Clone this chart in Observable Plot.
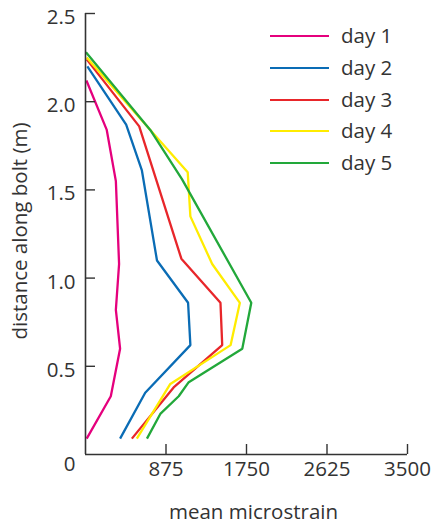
<!DOCTYPE html>
<html>
<head>
<meta charset="utf-8">
<script src="https://cdn.jsdelivr.net/npm/d3@7"></script>
<script src="https://cdn.jsdelivr.net/npm/@observablehq/plot@0.6"></script>
<style>
  body { margin: 0; background: #fff; }
  #wrap { position: relative; width: 447px; height: 524px; font-family: "Open Sans", sans-serif; }
  .sw { position: absolute; left: 270px; width: 59px; height: 2px; }
  .lb { position: absolute; left: 341px; font-size: 20.5px; color: #333; line-height: 28px; height: 28px; white-space: nowrap; }
</style>
</head>
<body>
<div id="wrap"></div>
<script>
const days = ["day 1", "day 2", "day 3", "day 4", "day 5"];
const colors = ["#e5007d", "#0a6cb5", "#e8262a", "#ffec00", "#22a83a"];
const xTicks = [875, 1750, 2625, 3500];
const yTicks = [0.5, 1.0, 1.5, 2.0, 2.5];

const day1Strain = [13, 275, 376, 330, 365, 330, 231, 10];
const day1Dist   = [0.09, 0.33, 0.60, 0.82, 1.08, 1.55, 1.84, 2.12];
const day2Strain = [376, 649, 1140, 1115, 777, 613, 442, 20];
const day2Dist   = [0.09, 0.35, 0.62, 0.86, 1.10, 1.61, 1.87, 2.20];
const day3Strain = [504, 958, 1486, 1467, 1042, 584, 13];
const day3Dist   = [0.09, 0.38, 0.62, 0.86, 1.11, 1.86, 2.24];
const day4Strain = [558, 922, 1577, 1678, 1377, 1140, 1111, 704, 13];
const day4Dist   = [0.09, 0.40, 0.62, 0.86, 1.08, 1.35, 1.60, 1.84, 2.25];
const day5Strain = [668, 813, 1013, 1122, 1704, 1802, 1050, 704, 5];
const day5Dist   = [0.09, 0.23, 0.33, 0.41, 0.60, 0.86, 1.56, 1.84, 2.28];

const series = [
  [day1Strain, day1Dist], [day2Strain, day2Dist], [day3Strain, day3Dist],
  [day4Strain, day4Dist], [day5Strain, day5Dist]
];
const rows = [];
series.forEach(([xs, ys], i) => xs.forEach((x, j) => rows.push({day: days[i], strain: x, dist: ys[j]})));

const ink = "#333";
const fs = 20.5;
const plot = Plot.plot({
  width: 447,
  height: 524,
  marginLeft: 85,
  marginRight: 40,
  marginTop: 13,
  marginBottom: 70,
  style: {fontFamily: "'Open Sans', sans-serif", fontSize: fs + "px", color: ink, background: "#fff", overflow: "visible"},
  x: {domain: [0, 3500]},
  y: {domain: [0, 2.5]},
  color: {domain: days, range: colors},
  marks: [
    Plot.line(rows, {x: "strain", y: "dist", z: "day", stroke: "day", strokeWidth: 2.3, strokeLinejoin: "miter", strokeLinecap: "butt"}),
    Plot.ruleX([0], {stroke: ink, strokeWidth: 1.6}),
    Plot.ruleY([0], {stroke: ink, strokeWidth: 1.6}),
    Plot.tickX(xTicks, {x: d => d, stroke: ink, strokeWidth: 1.4, insetTop: 431}),
    Plot.tickY(yTicks, {y: d => d, stroke: ink, strokeWidth: 1.4, insetRight: 312}),
    Plot.axisX(xTicks, {tickSize: 0, tickPadding: 7, label: null, tickFormat: d => String(d), fill: ink}),
    Plot.axisY(yTicks, {tickSize: 0, tickPadding: 10, dy: 4, label: null, tickFormat: d => d.toFixed(1), fill: ink}),
    Plot.axisY([0], {tickSize: 0, tickPadding: 10, dy: 10, label: null, tickFormat: d => "0", fill: ink}),
    Plot.text(["distance along bolt (m)"], {frameAnchor: "left", textAnchor: "middle", rotate: -90, dx: -65, dy: -3, fill: ink, fontSize: fs}),
    Plot.text(["mean microstrain"], {frameAnchor: "bottom", dx: 7, dy: 64, fill: ink, fontSize: fs})
  ]
});
const wrap = document.getElementById("wrap");
wrap.appendChild(plot);

const centers = [36, 68, 100, 131, 163];
days.forEach((d, i) => {
  const sw = document.createElement("div");
  sw.className = "sw";
  sw.style.top = (centers[i] - 1) + "px";
  sw.style.background = colors[i];
  const lb = document.createElement("div");
  lb.className = "lb";
  lb.style.top = (centers[i] - 15) + "px";
  lb.textContent = d;
  wrap.appendChild(sw);
  wrap.appendChild(lb);
});
</script>
</body>
</html>
